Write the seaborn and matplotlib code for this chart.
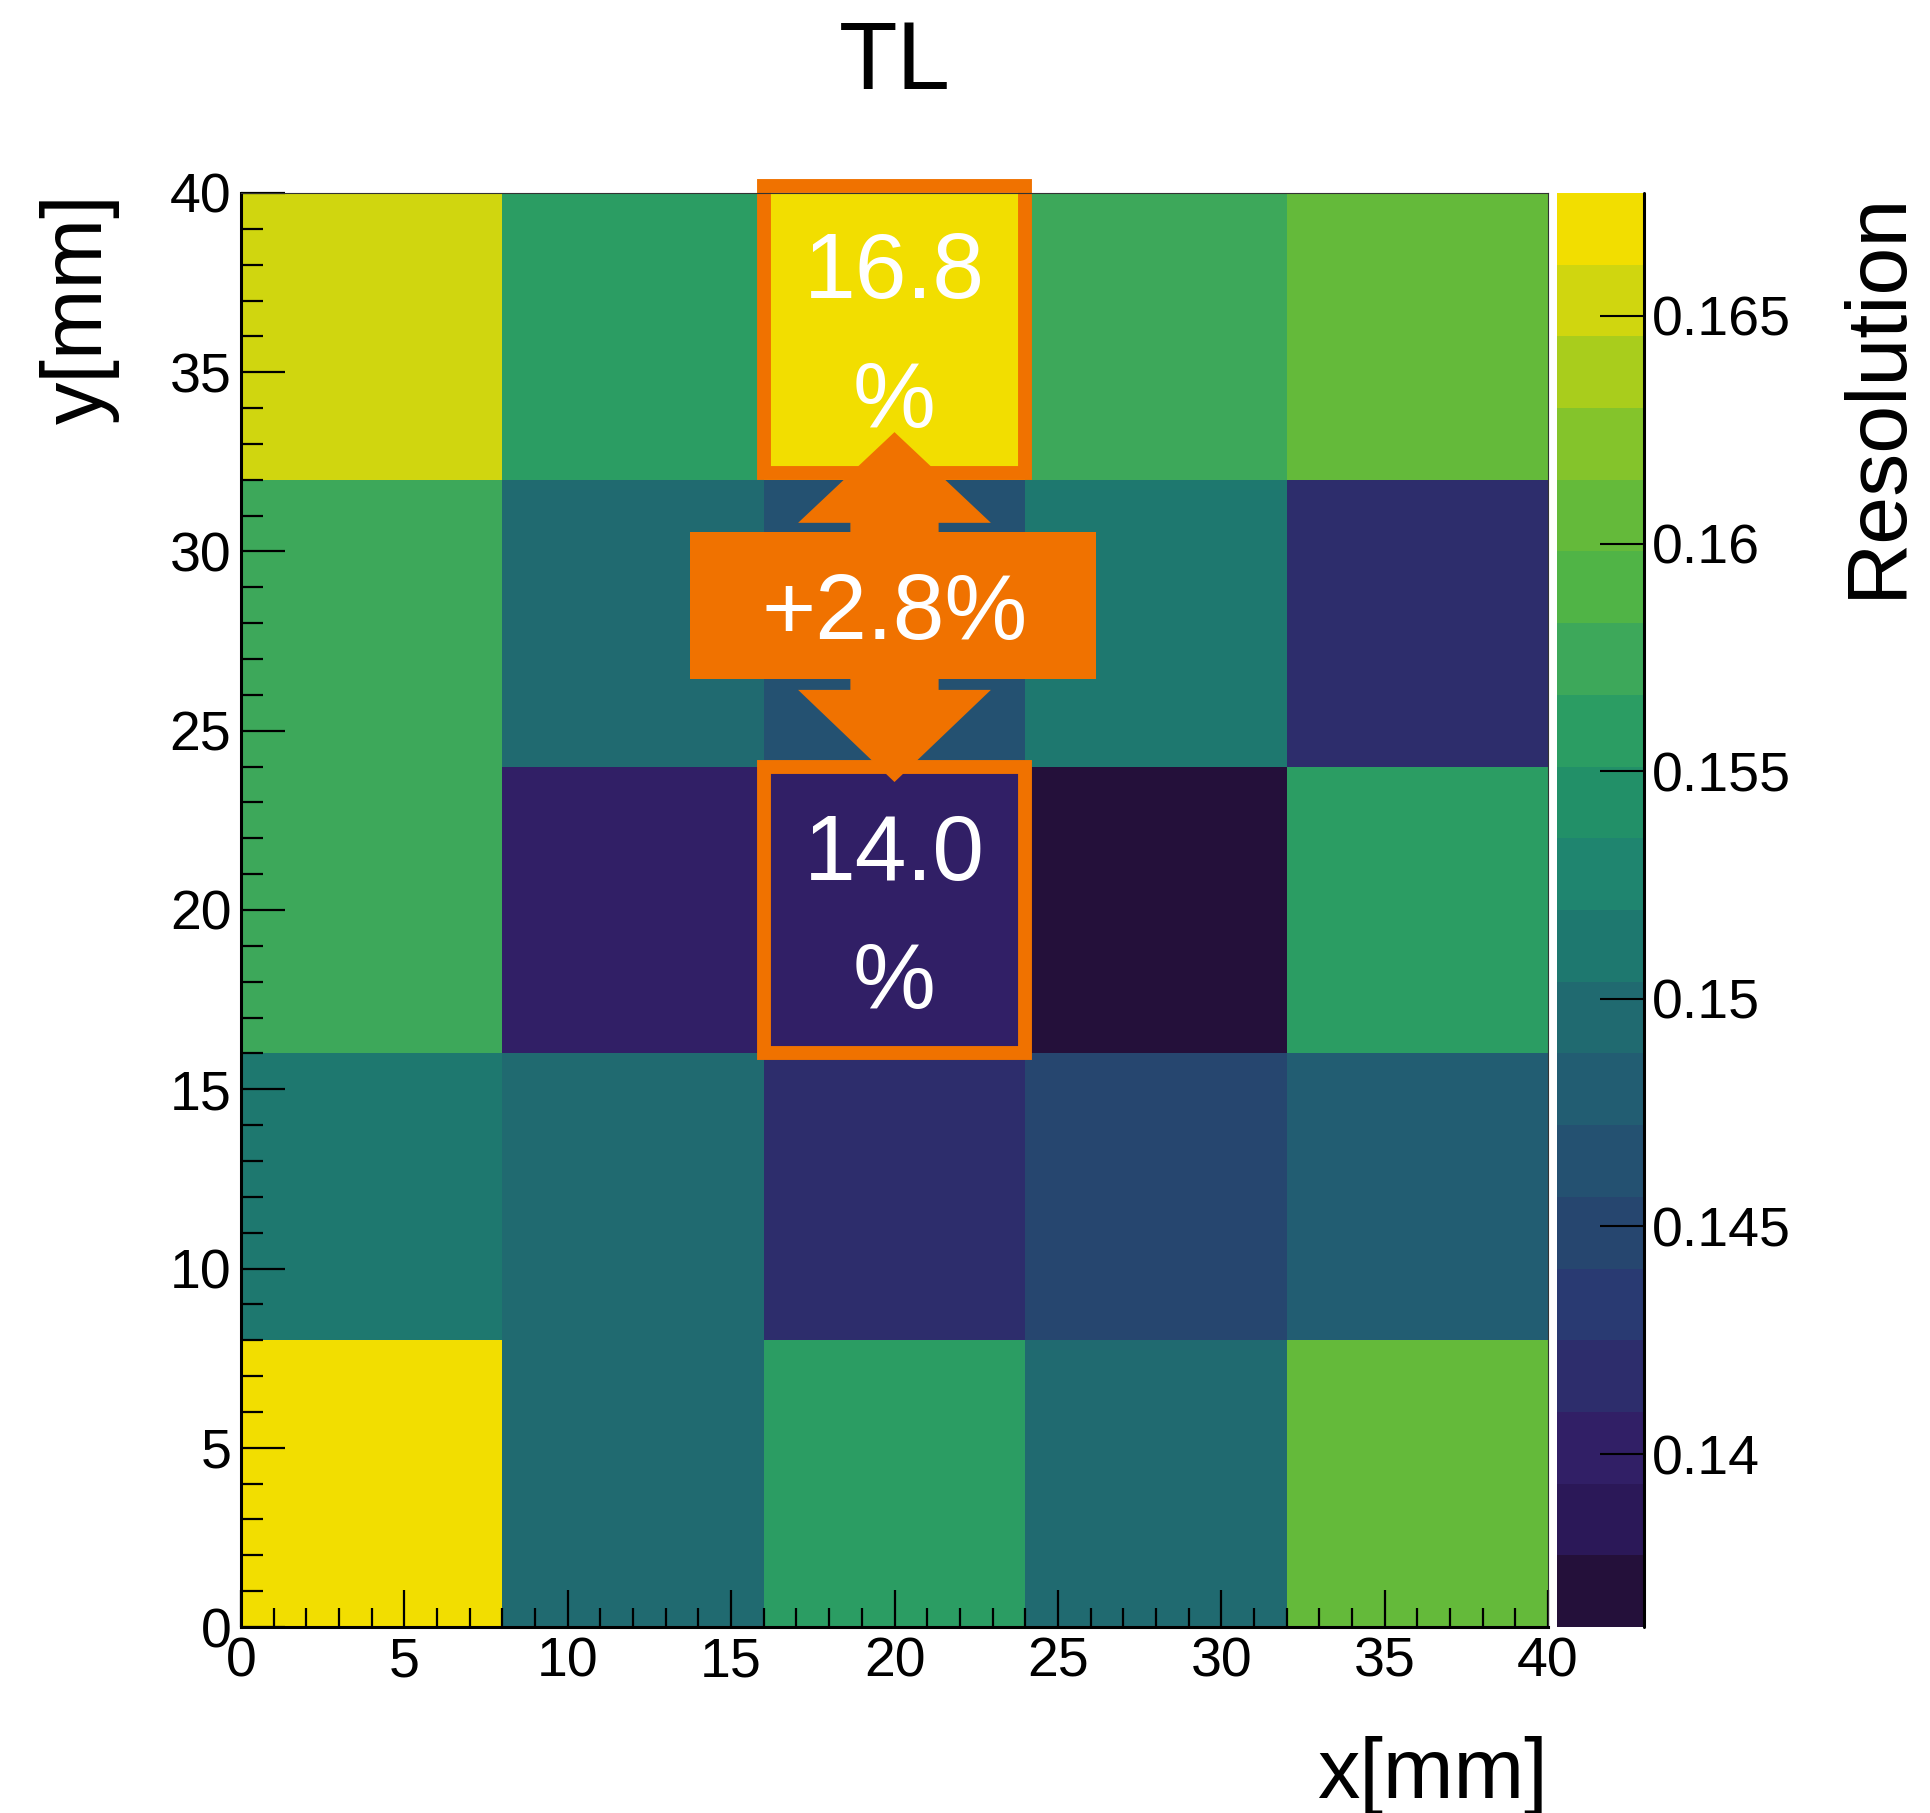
import numpy as np
import pandas as pd
import matplotlib
matplotlib.use("Agg")
import matplotlib.pyplot as plt
from matplotlib.colors import ListedColormap
from matplotlib.patches import Rectangle, Polygon
import seaborn as sns

# ---------------- data ----------------
x_edges_mm = [0, 8, 16, 24, 32, 40]
y_edges_mm = [0, 8, 16, 24, 32, 40]
# resolution per cell, rows from bottom (y 0-8) to top (y 32-40)
row_y0_8 = [0.1672, 0.1496, 0.1559, 0.1496, 0.1606]
row_y8_16 = [0.1512, 0.1496, 0.1417, 0.1449, 0.1480]
row_y16_24 = [0.1575, 0.1400, 0.1400, 0.1362, 0.1559]
row_y24_32 = [0.1575, 0.1496, 0.1464, 0.1512, 0.1417]
row_y32_40 = [0.1653, 0.1559, 0.1677, 0.1575, 0.1606]

z_min, z_max = 0.1362, 0.1677
x_ticks_mm = [0, 5, 10, 15, 20, 25, 30, 35, 40]
y_ticks_mm = [0, 5, 10, 15, 20, 25, 30, 35, 40]
cbar_ticks = [0.14, 0.145, 0.15, 0.155, 0.16, 0.165]
cbar_labels = ["0.14", "0.145", "0.15", "0.155", "0.16", "0.165"]

# 20-level palette (bottom -> top)
palette = ["#24103A", "#2B1858", "#311F66", "#2D2D6C", "#293A72",
           "#26466F", "#245171", "#225D72", "#206A70", "#1E786F",
           "#1F856F", "#229068", "#2B9D63", "#3DA85A", "#50B446",
           "#64BA3A", "#84C42B", "#A9CD1C", "#D0D60F", "#F2DE00"]

title = "TL"
xlabel = "x[mm]"
ylabel = "y[mm]"
zlabel = "Resolution"
top_label = ["16.8", "%"]
bottom_label = ["14.0", "%"]
diff_label = "+2.8%"
orange = "#F07200"

# ---------------- figure ----------------
W, H = 1931, 1813
sns.set_style("white")
plt.rcParams["font.family"] = ["Liberation Sans", "DejaVu Sans"]
plt.rcParams["text.color"] = "black"
plt.rcParams["axes.labelcolor"] = "black"
plt.rcParams["xtick.color"] = "black"
plt.rcParams["ytick.color"] = "black"
plt.rcParams["axes.axisbelow"] = False

fig = plt.figure(figsize=(W / 100, H / 100), dpi=100)
ax_l, ax_r, ax_t, ax_b = 241, 1548, 193, 1627
ax = fig.add_axes([ax_l / W, 1 - ax_b / H, (ax_r - ax_l) / W, (ax_b - ax_t) / H])
cax = fig.add_axes([1557 / W, 1 - ax_b / H, (1644 - 1557) / W, (ax_b - ax_t) / H])

df = pd.DataFrame([row_y0_8, row_y8_16, row_y16_24, row_y24_32, row_y32_40])
cmap = ListedColormap(palette)
sns.heatmap(df, ax=ax, cbar_ax=cax, cmap=cmap, vmin=z_min, vmax=z_max,
            linewidths=0, xticklabels=False, yticklabels=False)
ax.set_axisbelow(False)
cax.set_axisbelow(False)

binw = x_edges_mm[1] - x_edges_mm[0]
def mx(v):
    return v / binw
def my(v):
    return v / binw

ax.set_xlim(mx(x_edges_mm[0]), mx(x_edges_mm[-1]))
ax.set_ylim(my(y_edges_mm[0]), my(y_edges_mm[-1]))

ax.set_xticks([mx(v) for v in x_ticks_mm])
ax.set_xticklabels([str(v) for v in x_ticks_mm])
ax.set_yticks([my(v) for v in y_ticks_mm])
ax.set_yticklabels([str(v) for v in y_ticks_mm])
ax.set_xticks([mx(v) for v in range(0, 41)], minor=True)
ax.set_yticks([my(v) for v in range(0, 41)], minor=True)

ax.tick_params(axis="x", which="major", direction="in", length=27, width=1.6,
               labelsize=40, pad=7, bottom=True, top=False, color="black",
               labelcolor="black")
ax.tick_params(axis="x", which="minor", direction="in", length=14, width=1.6,
               bottom=True, top=False, color="black")
ax.tick_params(axis="y", which="major", direction="in", length=32, width=1.6,
               labelsize=40, pad=7, left=True, right=False, color="black",
               labelcolor="black")
ax.tick_params(axis="y", which="minor", direction="in", length=15.5, width=1.6,
               left=True, right=False, color="black")

for s in ["left", "bottom"]:
    ax.spines[s].set_visible(True)
    ax.spines[s].set_linewidth(2.2)
    ax.spines[s].set_color("black")
for s in ["top", "right"]:
    ax.spines[s].set_visible(True)
    ax.spines[s].set_linewidth(0.8)
    ax.spines[s].set_color("#333333")
for s in ax.spines.values():
    s.set_zorder(10)

ax.set_title(title, fontsize=69, pad=75, color="black")
ax.set_xlabel(xlabel, fontsize=61, loc="right", color="black")
ax.xaxis.set_label_coords(1.0, -0.076)
ax.set_ylabel(ylabel, fontsize=61, loc="top", color="black")
ax.yaxis.set_label_coords(-0.0926, 1.0)

# colour bar
cbar = ax.collections[0].colorbar
cbar.outline.set_visible(False)
cbar.set_ticks(cbar_ticks)
cbar.set_ticklabels(cbar_labels)
cax.minorticks_off()
cax.tick_params(axis="y", which="major", direction="in", length=32, width=1.5,
                labelsize=40, pad=6, right=True, left=False, color="black",
                labelcolor="black")
cax.plot([1, 1], [0, 1], transform=cax.transAxes, color="black", lw=2.2,
         clip_on=False, zorder=10)
fig.text(1838 / W, 1 - 191 / H, zlabel, fontsize=62, rotation=90,
         ha="left", va="top", color="black")

# ---------------- annotations ----------------
box_lw = 10
ax.add_patch(Rectangle((mx(16), my(32.2)), mx(8), my(8), fill=False,
                       ec=orange, lw=box_lw, zorder=5, clip_on=False))
ax.add_patch(Rectangle((mx(16), my(16)), mx(8), my(8), fill=False,
                       ec=orange, lw=box_lw, zorder=5, clip_on=False))

cx = 20.0
arrow_mm = [(cx, 33.33), (cx + 2.95, 30.8), (cx + 1.35, 30.8), (cx + 1.35, 26.14),
            (cx + 2.95, 26.14), (cx, 23.57), (cx - 2.95, 26.14), (cx - 1.35, 26.14),
            (cx - 1.35, 30.8), (cx - 2.95, 30.8)]
ax.add_patch(Polygon([(mx(a), my(b)) for a, b in arrow_mm], closed=True,
                     fc=orange, ec="none", zorder=6))
ax.add_patch(Rectangle((mx(13.74), my(26.44)), mx(26.17 - 13.74), my(30.54 - 26.44),
                       fc=orange, ec="none", zorder=7))

tk = dict(color="white", fontsize=67, ha="center", va="baseline", zorder=8)
ax.text(mx(cx), my(37.07), top_label[0], **tk)
ax.text(mx(cx), my(33.47), top_label[1], **tk)
ax.text(mx(cx), my(20.84), bottom_label[0], **tk)
ax.text(mx(cx), my(17.27), bottom_label[1], **tk)
ax.text(mx(cx), my(27.56), diff_label, **tk)

fig.savefig("out.png", dpi=100)
